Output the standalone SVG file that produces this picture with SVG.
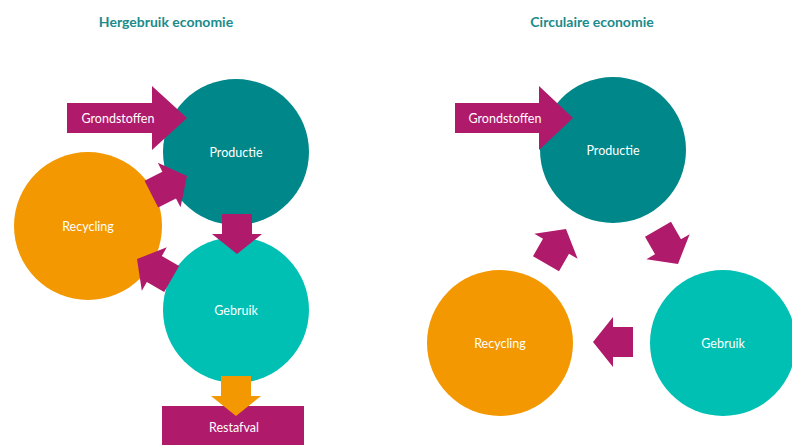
<svg xmlns="http://www.w3.org/2000/svg" xmlns:xlink="http://www.w3.org/1999/xlink" width="792" height="445" viewBox="0 0 792 445">
  <style>
    .title { font-family: Lato, "Liberation Sans", sans-serif; font-weight: bold; font-size: 14px; fill: #1A8B8B; text-anchor: middle; }
    .lbl { font-family: Lato, "Liberation Sans", sans-serif; font-size: 12.5px; fill: #FFFFFF; text-anchor: middle; dominant-baseline: central; }
    .prod { fill: #00878A; }
    .geb { fill: #00BFB3; }
    .rec { fill: #F39800; }
    .mag { fill: #B01A6B; }
    .ora { fill: #F39800; }
  </style>
  <defs>
    <path id="arr" d="M0,0 L-20,-25 L-20,-15 L-40,-15 L-40,15 L-20,15 L-20,25 Z"/>
  </defs>
  <rect width="792" height="445" fill="#FFFFFF"/>

  <text class="title" x="166" y="27">Hergebruik economie</text>
  <text class="title" x="592" y="27">Circulaire economie</text>

  <!-- Left diagram -->
  <g id="left-productie">
    <circle class="prod" cx="236" cy="152" r="73"/>
    <text class="lbl" x="236" y="152">Productie</text>
  </g>
  <g id="left-recycling">
    <circle class="rec" cx="88" cy="226" r="74"/>
    <text class="lbl" x="88" y="226">Recycling</text>
  </g>
  <g id="left-gebruik">
    <circle class="geb" cx="236" cy="310" r="73"/>
    <text class="lbl" x="236" y="310">Gebruik</text>
  </g>
  <g id="left-restafval">
    <rect class="mag" x="162" y="406" width="142" height="45"/>
    <text class="lbl" x="234" y="427">Restafval</text>
  </g>

  <!-- Right diagram -->
  <g id="right-productie">
    <circle class="prod" cx="613" cy="150" r="73"/>
    <text class="lbl" x="613" y="150">Productie</text>
  </g>
  <g id="right-recycling">
    <circle class="rec" cx="500" cy="343" r="73"/>
    <text class="lbl" x="500" y="343">Recycling</text>
  </g>
  <g id="right-gebruik">
    <circle class="geb" cx="723" cy="343" r="73"/>
    <text class="lbl" x="723" y="343">Gebruik</text>
  </g>

  <g id="connectors">
    <!-- left -->
    <g id="left-grondstoffen">
      <polygon class="mag" points="67,103 152,103 152,86 187,118 152,150 152,133 67,133"/>
      <text class="lbl" x="118" y="118">Grondstoffen</text>
    </g>
    <use xlink:href="#arr" class="mag" transform="translate(237,254) rotate(90)"/>
    <use xlink:href="#arr" class="mag" transform="translate(187,176) rotate(-27)"/>
    <use xlink:href="#arr" class="mag" transform="translate(137,259) rotate(210)"/>
    <use xlink:href="#arr" class="ora" transform="translate(236,416) rotate(90)"/>
    <!-- right -->
    <g id="right-grondstoffen">
      <polygon class="mag" points="455,103 539,103 539,86 573,118 539,150 539,133 455,133"/>
      <text class="lbl" x="505" y="118">Grondstoffen</text>
    </g>
    <use xlink:href="#arr" class="mag" transform="translate(678,264) rotate(60)"/>
    <use xlink:href="#arr" class="mag" transform="translate(593,342) rotate(180)"/>
    <use xlink:href="#arr" class="mag" transform="translate(566,229) rotate(-60)"/>
  </g>
</svg>
